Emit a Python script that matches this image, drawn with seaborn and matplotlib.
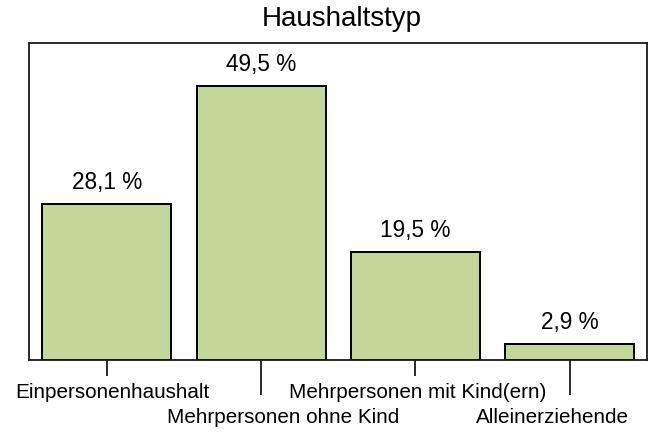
import matplotlib
matplotlib.use("Agg")
import matplotlib.pyplot as plt
import seaborn as sns
import pandas as pd

# ---- data ----
title = "Haushaltstyp"
categories = ["Einpersonenhaushalt", "Mehrpersonen ohne Kind",
              "Mehrpersonen mit Kind(ern)", "Alleinerziehende"]
values = [28.1, 49.5, 19.5, 2.9]

# ---- style ----
sns.set_style("white")
plt.rcParams["font.family"] = ["Liberation Sans", "DejaVu Sans"]

bar_color = "#C4D79B"
label_dx = [6, 22, 2, -17]      # horizontal offsets of category labels (px)
label_dy = [23, 48, 23, 48]     # vertical offsets of category labels (px)

fig = plt.figure(figsize=(6.51, 4.33), dpi=100)
ax = fig.add_axes([0.0453, 0.1686, 0.9486, 0.7328])

df = pd.DataFrame({"Kategorie": categories, "Anteil": values})
sns.barplot(data=df, x="Kategorie", y="Anteil", color=bar_color,
            saturation=1, edgecolor="black", linewidth=1.4,
            width=0.835, ax=ax)

ax.set_xlim(-0.5, 3.5)
ax.set_ylim(0, 57.3)
ax.set_xlabel("")
ax.set_ylabel("")
ax.set_yticks([])

for sp in ax.spines.values():
    sp.set_visible(True)
    sp.set_color("#1a1a1a")
    sp.set_linewidth(1.3)

# staggered ticks: short (major) and long (minor)
ax.set_xticks([0, 2])
ax.set_xticks([1, 3], minor=True)
ax.tick_params(axis="x", which="major", bottom=True, length=11.5, width=1.3,
               direction="out", color="#1a1a1a", labelbottom=False)
ax.tick_params(axis="x", which="minor", bottom=True, length=25, width=1.3,
               direction="out", color="#1a1a1a", labelbottom=False)

# category labels
for i, cat in enumerate(categories):
    ax.annotate(cat, xy=(i, 0), xycoords=("data", "axes fraction"),
                xytext=(label_dx[i], -label_dy[i]), textcoords="offset pixels",
                ha="center", va="top", fontsize=14.9, color="black")

# value labels
for i, v in enumerate(values):
    txt = f"{v:.1f}".replace(".", ",") + " %"
    ax.annotate(txt, xy=(i, v), xytext=(0, 11), textcoords="offset points",
                ha="center", va="baseline", fontsize=16.3, color="black")

ax.set_title(title, fontsize=20, pad=12, x=0.506, color="black")

fig.savefig("out.png", dpi=100)
